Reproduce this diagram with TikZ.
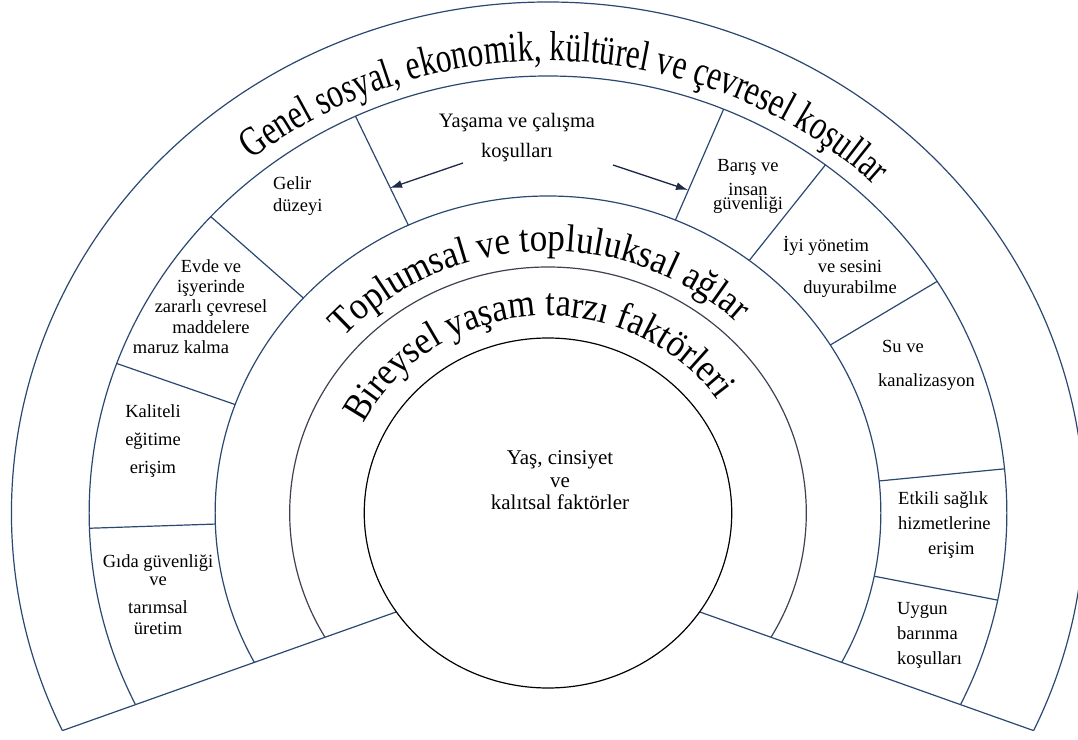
\documentclass[tikz,border=0pt]{standalone}
\usepackage{fontspec}
\setmainfont{Liberation Serif}
\newfontfamily\genelfont[FakeStretch=0.75]{Liberation Serif}
\newfontfamily\toplumfont[FakeStretch=0.90]{Liberation Serif}
\newfontfamily\bireyfont[FakeStretch=0.89]{Liberation Serif}
\usetikzlibrary{decorations.text,arrows.meta}
\definecolor{ringblue}{RGB}{42,72,112}
\definecolor{ringgray}{RGB}{60,66,82}
\definecolor{arrowblue}{RGB}{30,42,72}
\begin{document}
\begin{tikzpicture}[x=1pt,y=1pt,
  ring/.style={ringblue, line width=1.2pt},
  boxtext/.style={font=\fontsize{18.5}{22}\selectfont, inner sep=0pt},
  title/.style={decorate, decoration={text along path, text align=center, text={#1}}}]
\useasboundingbox (-548,-226) rectangle (530,513);
\begin{scope}
\clip (0,-45) -- (-606.9,-260.75) -- (-606.9,520) -- (606.9,520) -- (606.9,-260.75) -- cycle;
\draw[ring] (0,0) ellipse[x radius=536.55, y radius=511];
\draw[ring] (0,0) ellipse[x radius=458.85, y radius=437];
\draw[ring] (0,0) ellipse[x radius=332.85, y radius=317];
\draw[ringgray, line width=1.2pt] (0,0) ellipse[x radius=258.3, y radius=246];
\end{scope}
\coordinate (vtx) at (0,-45);
\coordinate (bl) at (205.2:536.55 and 511);
\coordinate (br) at (-25.2:536.55 and 511);
\draw[ring] (vtx) -- (bl);
\draw[ring] (vtx) -- (br);
\draw[black, line width=1.2pt, fill=white] (0,0) ellipse[x radius=183.75, y radius=175];
\foreach \a in {182,160,137.3,114.8,67.5,52.8,32,5.8,-11.5}
  \draw[ring] (\a:332.85 and 317) -- (\a:458.85 and 437);
\coordinate (lt) at (-85,350);
\coordinate (lh) at (-158,325);
\coordinate (rt) at (65,348);
\coordinate (rh) at (140,323);
\draw[arrowblue, line width=1.3pt, -{Latex[length=12pt,width=8pt]}] (lt) -- (lh);
\draw[arrowblue, line width=1.3pt, -{Latex[length=12pt,width=8pt]}] (rt) -- (rh);
\path[title={|\genelfont\fontsize{42}{42}\selectfont|Genel sosyal, ekonomik, kültürel ve çevresel koşullar}] (157.5:474.6 and 452) arc[start angle=157.5, end angle=17.5, x radius=474.6, y radius=452];
\path[title={|\toplumfont\fontsize{39}{39}\selectfont|Toplumsal ve topluluksal ağlar}] (162.3:275.1 and 262) arc[start angle=162.3, end angle=22.3, x radius=275.1, y radius=262];
\path[title={|\bireyfont\fontsize{39}{39}\selectfont|Bireysel yaşam tarzı faktörleri}] (164:206.85 and 197) arc[start angle=164, end angle=24, x radius=206.85, y radius=197];
\node[boxtext, align=center, font=\fontsize{20.5}{30}\selectfont] (yasama) at (-31,375) {Yaşama ve çalışma\\koşulları};
\node[boxtext, align=left, anchor=west] (gelir) at (-275,317) {Gelir\\düzeyi};
\node[boxtext, align=center, font=\fontsize{18.5}{20.3}\selectfont] (evde) at (-337,206.5) {Evde ve\\işyerinde\\zararlı çevresel\\maddelere\\maruz kalma\hspace*{60pt}};
\node[boxtext, align=center, font=\fontsize{18.5}{28}\selectfont] (kaliteli) at (-395,72) {Kaliteli\\eğitime\\erişim};
\node[boxtext, align=center] (gida) at (-390,-81.5) {Gıda güvenliği\\[-4pt]ve\\[6pt]tarımsal\\[-1pt]üretim};
\node[boxtext, align=center] (baris) at (200,327) {Barış ve\\[2pt]insan\\[-8pt]güvenliği};
\node[boxtext, align=center, font=\fontsize{18.5}{21}\selectfont] (iyi) at (302,246) {İyi yönetim\hspace*{48pt}\\ve sesini\\duyurabilme};
\node[boxtext, align=left, anchor=west, font=\fontsize{18.5}{34}\selectfont] (su) at (330,148) {\hspace*{4pt}Su ve\\kanalizasyon};
\node[boxtext, align=left, anchor=west, font=\fontsize{18.5}{25}\selectfont] (etkili) at (350,-12) {Etkili sağlık\\hizmetlerine\\\hspace*{30pt}erişim};
\node[boxtext, align=left, anchor=west, font=\fontsize{18.5}{25}\selectfont] (uygun) at (349,-122) {Uygun\\barınma\\koşulları};
\node[boxtext, align=center, font=\fontsize{21}{22.5}\selectfont] (yas) at (12,32.5) {Yaş, cinsiyet\\ve\hspace*{24pt}\\kalıtsal faktörler};
\end{tikzpicture}
\end{document}
